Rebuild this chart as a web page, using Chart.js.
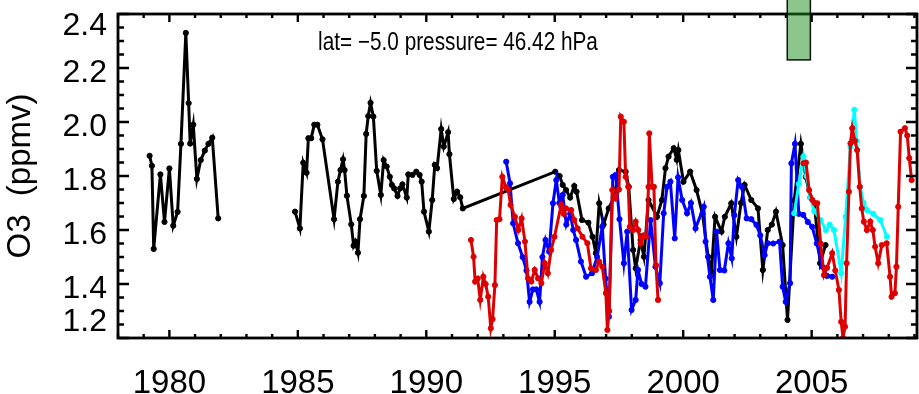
<!DOCTYPE html>
<html>
<head>
<meta charset="utf-8">
<script src="https://cdn.jsdelivr.net/npm/chart.js@4"></script>
<style>
html, body { margin: 0; padding: 0; background: #fff; overflow: hidden; }
#wrap { width: 922px; height: 394px; }
</style>
</head>
<body>
<div id="wrap"><canvas id="chart1"></canvas></div>
<script>
// axis ticks
const xMajorTicks = [1980, 1985, 1990, 1995, 2000, 2005];
const yMajorTicks = [1.2, 1.4, 1.6, 1.8, 2.0, 2.2, 2.4];

// black series (null = data gap)
const blackYears = [
  1979.23,1979.32,1979.39,1979.65,1979.81,1980.00,1980.15,1980.32,1980.45,1980.64,1980.75,1980.81,1980.93,1981.07,1981.22,1981.38,1981.52,1981.67,1981.90,
  1983.40,
  1984.89,1985.08,1985.21,1985.34,1985.41,1985.52,1985.64,1985.76,1985.96,1986.41,1986.56,1986.66,1986.76,1986.82,1986.91,
  1987.08,1987.17,1987.24,1987.34,1987.42,1987.57,1987.66,1987.74,1987.83,1987.94,1988.07,1988.23,1988.34,1988.46,1988.58,1988.66,1988.75,1988.88,1988.98,
  1989.07,1989.24,1989.30,1989.46,1989.61,1989.74,1989.82,1989.91,1990.10,1990.23,1990.33,1990.42,1990.58,1990.68,1990.85,1990.90,
  1991.07,1991.20,1991.32,1991.42,
  1995.02,1995.19,1995.31,1995.44,1995.60,1995.76,1995.85,1996.06,1996.31,1996.47,1996.60,1996.73,1996.90,
  1997.10,1997.30,1997.50,1997.76,1997.88,1998.05,1998.15,1998.34,1998.47,1998.65,1998.98,
  1999.17,1999.31,1999.43,1999.63,1999.75,1999.81,2000.01,2000.27,2000.52,2000.75,2000.97,
  2001.10,2001.24,2001.49,2001.62,2001.87,2002.07,2002.25,2002.39,2002.65,2002.91,
  2003.10,2003.29,2003.45,2003.61,2003.87,2004.06,2004.32,2004.58,2004.77,2004.95,2005.10,2005.33,2005.54
];
const blackVals = [
  1.875,1.838,1.530,1.806,1.630,1.828,1.616,1.667,1.919,2.330,2.070,1.920,1.990,1.789,1.859,1.894,1.919,1.942,1.643,
  null,
  1.668,1.606,1.849,1.812,1.940,1.940,1.990,1.990,1.936,1.640,1.779,1.822,1.862,1.822,1.727,
  1.621,1.542,1.557,1.516,1.640,1.726,1.956,2.022,2.071,2.020,1.819,1.730,1.859,1.835,1.797,1.767,1.754,1.726,1.754,
  1.769,1.720,1.806,1.804,1.816,1.804,1.779,1.668,1.594,1.711,1.841,1.829,1.974,1.909,1.962,1.881,
  1.715,1.742,1.721,1.680,
  1.816,1.800,1.767,1.748,1.720,1.763,1.742,1.637,1.627,1.575,1.514,1.699,1.620,
  1.680,1.720,1.822,1.816,1.760,1.526,1.458,1.563,1.501,1.711,1.649,
  1.711,1.829,1.872,1.903,1.860,1.896,1.779,1.816,1.748,1.660,1.501,
  1.446,1.649,1.594,1.649,1.699,1.575,1.700,1.767,1.711,1.680,
  1.452,1.600,1.620,1.668,1.544,1.267,1.710,1.919,1.797,1.720,1.700,1.477,1.544
];

// blue series
const blueYears = [
  1993.11,1993.26,1993.38,1993.57,1993.75,1993.90,1994.02,1994.15,1994.28,1994.41,
  1994.52,1994.64,1994.78,1994.93,1995.06,1995.18,1995.31,1995.45,1995.60,1995.72,
  1995.83,1996.02,1996.22,1996.45,1996.65,1996.85,1996.98,1997.11,1997.26,1997.37,
  1997.52,1997.69,1997.82,1997.99,1998.15,1998.24,1998.38,1998.53,1998.73,1998.92,
  1999.09,1999.24,1999.37,1999.50,1999.67,1999.80,1999.96,2000.15,2000.30,2000.48,
  2000.80,2000.87,2001.04,2001.17,2001.30,2001.43,2001.60,2001.76,2001.89,2001.99,
  2002.14,2002.28,2002.47,2002.65,2002.85,2003.00,2003.17,2003.29,2003.50,2003.75,
  2003.87,2003.99,2004.16,2004.21,2004.35,2004.50,2004.67,2004.85,2005.02,2005.20,
  2005.41,2005.60,2005.80
];
const blueVals = [
  1.853,1.773,1.625,1.551,1.500,1.450,1.334,1.380,1.380,1.334,
  1.500,1.563,1.520,1.699,1.785,1.700,1.730,1.620,1.660,1.600,
  1.563,1.483,1.427,1.440,1.500,1.612,1.420,1.279,1.797,1.804,
  1.640,1.477,1.594,1.304,1.341,1.452,1.400,1.390,1.637,1.464,
  1.403,1.662,1.760,1.779,1.569,1.795,1.711,1.662,1.700,1.606,
  1.686,1.557,1.427,1.341,1.594,1.452,1.450,1.551,1.495,1.655,
  1.785,1.760,1.643,1.640,1.619,1.580,1.507,1.551,1.550,1.557,
  1.390,1.334,1.403,1.847,1.919,1.660,1.656,1.630,1.612,1.550,
  1.464,1.430,1.427
];

// red series (null = data gap)
const redYears = [
  1991.74,1991.84,1991.90,1992.00,1992.10,1992.22,1992.31,1992.41,1992.51,1992.58,
  1992.67,1992.74,1992.85,1992.96,1993.10,1993.19,1993.28,1993.45,1993.58,1993.71,
  1993.84,1993.96,1994.09,1994.22,1994.35,1994.48,1994.61,1994.73,1994.86,1994.99,
  1995.25,1995.35,1995.44,1995.64,1995.76,1995.89,1996.08,1996.27,1996.41,1996.60,
  1996.73,1996.85,1996.99,1997.05,1997.12,1997.24,1997.37,1997.50,1997.57,1997.69,
  1997.76,1997.86,1997.92,1998.05,1998.15,1998.25,1998.34,1998.45,1998.56,1998.65,
  1998.68,1998.79,1998.86,1998.94,1999.02,2001.50,2004.68,2004.78,2004.90,2005.03,
  2005.12,2005.22,2005.35,2005.48,2005.60,2005.80,2005.92,2006.06,2006.15,2006.22,
  2006.30,2006.36,2006.45,2006.51,2006.58,2006.68,2006.77,2006.87,2006.95,2007.03,
  2007.15,2007.28,2007.38,2007.47,2007.59,2007.73,2007.92,2008.05,2008.11,2008.24,
  2008.30,2008.37,2008.46,2008.63,2008.72,2008.80,2008.89
];
const redVals = [
  1.563,1.501,1.409,1.420,1.341,1.427,1.400,1.353,1.236,1.270,
  1.396,1.637,1.640,1.797,1.758,1.748,1.693,1.649,1.600,1.643,
  1.557,1.421,1.409,1.452,1.421,1.403,1.477,1.440,1.526,1.575,
  1.693,1.660,1.680,1.674,1.637,1.606,1.575,1.551,1.458,1.452,
  1.483,1.464,1.366,1.230,1.300,1.748,1.717,1.750,2.020,2.001,
  1.797,1.760,1.612,1.600,1.631,1.600,1.551,1.580,1.575,1.760,
  1.958,1.760,1.760,1.470,1.341,null,1.847,1.850,1.748,1.711,
  1.700,1.699,1.550,1.433,1.460,1.514,1.450,1.378,1.260,1.200,
  1.242,1.477,1.742,1.921,1.977,1.930,1.896,1.760,1.680,1.631,
  1.600,1.631,1.600,1.538,1.477,1.544,1.551,1.427,1.353,1.366,
  1.464,1.686,1.964,1.977,1.950,1.866,1.785
];

// cyan series
const cyanYears = [2004.32,2004.50,2004.68,2004.80,2004.95,2005.10,2005.35,2005.55,2005.70,2005.87,2006.15,
  2006.32,2006.51,2006.66,2006.75,2006.89,2007.02,2007.15,2007.40,2007.67,2007.93];
const cyanVals = [1.662,1.770,1.872,1.800,1.720,1.670,1.637,1.600,1.620,1.600,1.440,
  1.649,1.909,2.045,1.930,1.760,1.700,1.674,1.660,1.637,1.575];

// green marker box (years, ppmv)
const boxYears = [2004.05, 2004.95];
const boxVals = [2.23, 2.5];

const fontFamily = "'Liberation Sans', Arial, Helvetica, sans-serif";

function series(label, years, vals, color, order) {
  return {
    label: label,
    data: years.map((yr, i) => ({ x: yr, y: vals[i] })),
    borderColor: color,
    backgroundColor: color,
    borderWidth: 3,
    pointRadius: 2.6,
    pointBorderWidth: 1,
    tension: 0,
    spanGaps: false,
    order: order
  };
}

// inward IDL-style ticks, frame, y labels, title text and the green box
const idlFrame = {
  id: 'idlFrame',
  afterDatasetsDraw(chart) {
    const { ctx, chartArea: a, scales: { x, y } } = chart;
    ctx.save();
    ctx.strokeStyle = '#000';
    ctx.lineWidth = 2.4;
    ctx.beginPath();
    for (let yr = 1978; yr <= 2009; yr++) {
      const px = x.getPixelForValue(yr);
      const len = yr % 5 === 0 ? 8 : 4;
      ctx.moveTo(px, a.bottom); ctx.lineTo(px, a.bottom - len);
      ctx.moveTo(px, a.top); ctx.lineTo(px, a.top + len);
    }
    for (let k = 0; k <= 24; k++) {
      const py = y.getPixelForValue(1.2 + k * 0.05);
      const len = k % 4 === 0 ? 11 : 6;
      ctx.moveTo(a.left, py); ctx.lineTo(a.left + len, py);
      ctx.moveTo(a.right, py); ctx.lineTo(a.right - len, py);
    }
    ctx.stroke();
    ctx.lineWidth = 2.8;
    ctx.strokeRect(a.left, a.top, a.right - a.left, a.bottom - a.top);

    // y tick labels, end labels pulled inside the frame
    ctx.fillStyle = '#000';
    ctx.font = '32px ' + fontFamily;
    ctx.textAlign = 'right';
    ctx.textBaseline = 'middle';
    yMajorTicks.forEach((v, i) => {
      let dy = 5;
      if (i === 0) dy = -16;
      if (i === yMajorTicks.length - 1) dy = 12;
      ctx.fillText(v.toFixed(1), a.left - 11, y.getPixelForValue(v) + dy);
    });

    // green box
    const bx0 = x.getPixelForValue(boxYears[0]);
    const bx1 = x.getPixelForValue(boxYears[1]);
    const by0 = y.getPixelForValue(boxVals[1]);
    const by1 = y.getPixelForValue(boxVals[0]);
    ctx.fillStyle = 'rgba(25,141,25,0.5)';
    ctx.fillRect(bx0, by0, bx1 - bx0, by1 - by0);
    ctx.lineWidth = 1.5;
    ctx.strokeStyle = '#111';
    ctx.strokeRect(bx0, by0, bx1 - bx0, by1 - by0);

    // in-plot title, narrow lettering
    ctx.fillStyle = '#000';
    ctx.font = '25px ' + fontFamily;
    ctx.textAlign = 'center';
    ctx.textBaseline = 'alphabetic';
    ctx.translate(a.left + 340, a.top + 36);
    ctx.scale(0.83, 1);
    ctx.fillText('lat= \u22125.0 pressure= 46.42 hPa', 0, 0);
    ctx.restore();
  }
};

const ctx1 = document.getElementById('chart1').getContext('2d');
const chart1 = new Chart(ctx1, {
  type: 'line',
  data: {
    datasets: [
      series('red', redYears, redVals, '#dd0000', 1),
      series('cyan', cyanYears, cyanVals, '#00ffff', 2),
      series('blue', blueYears, blueVals, '#0000ff', 3),
      series('black', blackYears, blackVals, '#000000', 4)
    ]
  },
  options: {
    responsive: true,
    maintainAspectRatio: false,
    animation: false,
    layout: { padding: { top: 14, right: 2, left: 0, bottom: 0 } },
    plugins: {
      legend: { display: false },
      tooltip: { enabled: false }
    },
    scales: {
      x: {
        type: 'linear',
        min: 1978,
        max: 2009.1,
        grid: { display: false },
        border: { display: false },
        afterBuildTicks: s => { s.ticks = xMajorTicks.map(v => ({ value: v })); },
        afterFit: s => { s.height = 56; s.paddingLeft = 0; s.paddingRight = 0; },
        ticks: {
          color: '#000',
          font: { family: fontFamily, size: 33 },
          padding: 18,
          maxRotation: 0,
          autoSkip: false,
          callback: v => String(v)
        }
      },
      y: {
        min: 1.2,
        max: 2.4,
        grid: { display: false },
        border: { display: false },
        afterBuildTicks: s => { s.ticks = yMajorTicks.map(v => ({ value: v })); },
        afterFit: s => { s.width = 118; s.paddingTop = 0; s.paddingBottom = 0; },
        ticks: { display: false },
        title: {
          display: true,
          text: 'O3  (ppmv)',
          color: '#000',
          font: { family: fontFamily, size: 33 },
          padding: { top: 1, bottom: 0 }
        }
      }
    }
  },
  plugins: [idlFrame]
});
</script>
</body>
</html>
